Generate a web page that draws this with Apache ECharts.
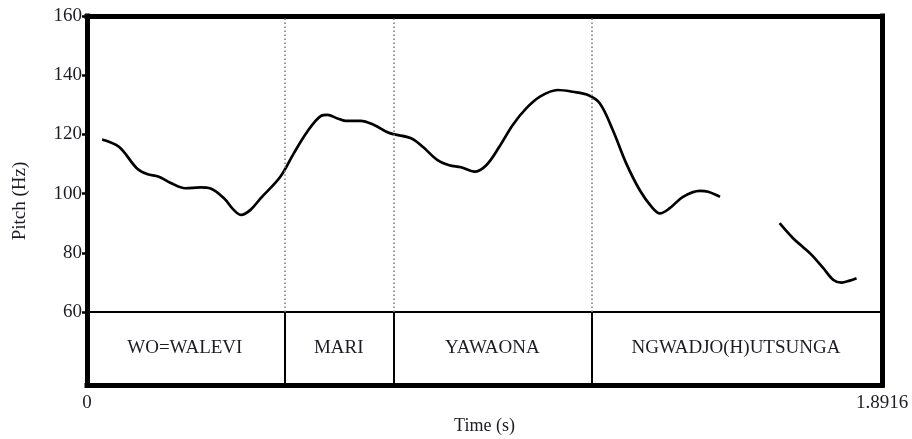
<!DOCTYPE html>
<html>
<head>
<meta charset="utf-8">
<title>Pitch track</title>
<script src="https://cdn.jsdelivr.net/npm/echarts@6/dist/echarts.min.js"></script>
<style>
  html, body { margin: 0; padding: 0; background: #ffffff; }
  #chart { width: 912px; height: 439px; }
</style>
</head>
<body>
<div id="chart"></div>
<script>
// Pitch contour (time in s, F0 in Hz); null marks the unvoiced gap
const pitchTime = [
  0.036, 0.076, 0.119, 0.143, 0.171, 0.198, 0.234, 0.270, 0.294, 0.326,
  0.349, 0.367, 0.389, 0.413, 0.460, 0.492, 0.524, 0.556, 0.572, 0.596,
  0.615, 0.651, 0.683, 0.715, 0.731, 0.771, 0.799, 0.834, 0.862, 0.890,
  0.922, 0.950, 0.981, 1.013, 1.045, 1.077, 1.120, 1.156, 1.192, 1.220,
  1.251, 1.283, 1.315, 1.343, 1.363, 1.386, 1.418, 1.458, 1.478, 1.506,
  1.580,
  1.648, 1.680, 1.704, 1.724, 1.752, 1.776, 1.795, 1.815, 1.831
];
const pitchHz = [
  118.3, 115.8, 108.5, 106.6, 105.7, 103.7, 101.8, 102.1, 101.7, 98.4,
  94.5, 92.8, 94.5, 98.4, 105.7, 113.6, 120.9, 126.2, 126.6, 125.4,
  124.6, 124.6, 123.2, 120.7, 120.0, 118.7, 115.8, 111.3, 109.6, 108.9,
  107.4, 109.6, 115.8, 123.2, 128.8, 132.7, 135.0, 134.4, 133.3, 130.5,
  121.5, 110.2, 101.2, 95.6, 93.3, 95.0, 98.9, 100.9, 100.6, 98.9,
  null,
  90.0, 84.9, 81.9, 79.3, 74.8, 70.8, 69.9, 70.6, 71.4
];

// Word tier: interval boundaries (s) and labels
const wordBounds = [0, 0.4655, 0.7325, 1.1965, 1.8916];
const wordLabels = ['WO=WALEVI', 'MARI', 'YAWAONA', 'NGWADJO(H)UTSUNGA'];

// Axis ticks
const hzMin = 60, hzMax = 160, hzStep = 20;
const timeMin = 0, timeMax = 1.8916;

const FONT = '"Liberation Serif", "Times New Roman", serif';
const INK = '#1c1c24';
const frame = { show: true, onZero: false, lineStyle: { color: '#000', width: 5, cap: 'square' } };
const hidden = { show: false };

const pitchData = pitchTime.map((t, i) => [t, pitchHz[i]]);
const innerBounds = wordBounds.slice(1, -1).map(v => ({ xAxis: v }));
const wordData = wordLabels.map((name, i) => ({
  value: [(wordBounds[i] + wordBounds[i + 1]) / 2, 0.5],
  name: name
}));

const chart = echarts.init(document.getElementById('chart'), null, { renderer: 'canvas' });
chart.setOption({
  animation: false,
  backgroundColor: '#ffffff',
  textStyle: { fontFamily: FONT },
  grid: [
    { left: 87, top: 16, width: 795, height: 296 },
    { left: 87, top: 312, width: 795, height: 73 }
  ],
  xAxis: [
    { type: 'value', gridIndex: 0, position: 'bottom', min: timeMin, max: timeMax,
      axisLine: { show: true, onZero: false, lineStyle: { color: '#000', width: 2 } },
      axisTick: hidden, axisLabel: hidden, splitLine: hidden },
    { type: 'value', gridIndex: 0, position: 'top', min: timeMin, max: timeMax,
      axisLine: frame, axisTick: hidden, axisLabel: hidden, splitLine: hidden },
    { type: 'value', gridIndex: 1, position: 'bottom', min: timeMin, max: timeMax,
      axisLine: frame, axisTick: hidden, splitLine: hidden,
      axisLabel: { customValues: [timeMin, timeMax], margin: 9, fontSize: 19,
        fontFamily: FONT, color: INK, formatter: v => String(v) },
      name: 'Time (s)', nameLocation: 'middle', nameGap: 32,
      nameTextStyle: { fontSize: 18, fontFamily: FONT, color: INK } }
  ],
  yAxis: [
    { type: 'value', gridIndex: 0, position: 'left', min: hzMin, max: hzMax, interval: hzStep,
      axisLine: frame,
      axisTick: { show: true, length: 5, lineStyle: { color: '#000', width: 2.5 } },
      axisLabel: { margin: 5, fontSize: 19, fontFamily: FONT, color: INK },
      splitLine: hidden },
    { type: 'value', gridIndex: 0, position: 'right', min: hzMin, max: hzMax,
      axisLine: frame, axisTick: hidden, axisLabel: hidden, splitLine: hidden },
    { type: 'value', gridIndex: 1, position: 'left', min: 0, max: 1,
      axisLine: frame, axisTick: hidden, axisLabel: hidden, splitLine: hidden },
    { type: 'value', gridIndex: 1, position: 'right', min: 0, max: 1,
      axisLine: frame, axisTick: hidden, axisLabel: hidden, splitLine: hidden }
  ],
  graphic: [
    { type: 'text', x: 20, y: 201, rotation: Math.PI / 2,
      style: { text: 'Pitch (Hz)', font: '19px ' + FONT, fill: INK,
        textAlign: 'center', textVerticalAlign: 'middle' } }
  ],
  series: [
    {
      name: 'F0', type: 'line', xAxisIndex: 0, yAxisIndex: 0,
      data: pitchData, smooth: 0.35, connectNulls: false, showSymbol: false,
      lineStyle: { color: '#000', width: 2.7 },
      markLine: {
        silent: true, symbol: 'none', label: hidden,
        lineStyle: { color: '#808080', width: 1.6, type: [1.5, 2.5] },
        data: innerBounds
      }
    },
    {
      name: 'Words', type: 'scatter', xAxisIndex: 2, yAxisIndex: 2,
      data: wordData, symbolSize: 0, itemStyle: { opacity: 1 },
      label: { show: true, position: 'inside', formatter: p => p.name,
        fontSize: 19, fontFamily: FONT, color: INK, opacity: 1 },
      markLine: {
        silent: true, symbol: 'none', label: hidden,
        lineStyle: { color: '#000', width: 2, type: 'solid' },
        data: innerBounds
      }
    }
  ]
});
</script>
</body>
</html>
